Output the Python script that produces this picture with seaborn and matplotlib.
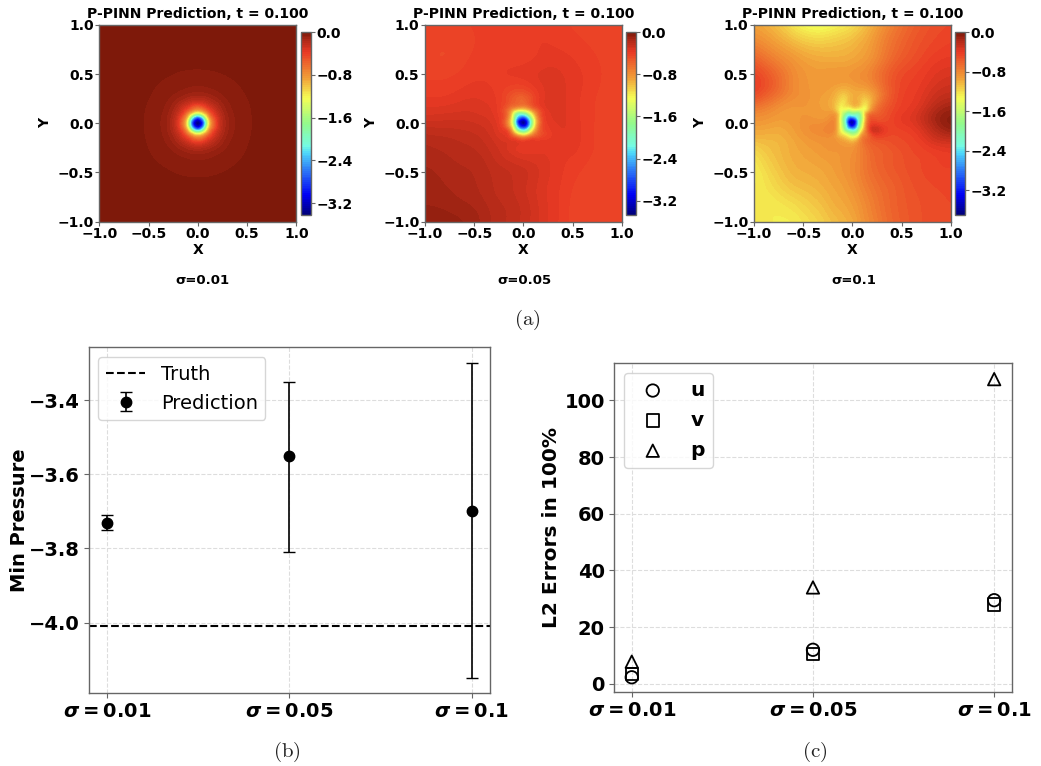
import numpy as np
import pandas as pd
import matplotlib
matplotlib.use('Agg')
import matplotlib.pyplot as plt
import matplotlib.tri as mtri
from matplotlib.colors import LinearSegmentedColormap
import seaborn as sns

# grid nodes of the pressure fields (finer close to the vortex core)
grid_x = [-1, -.8, -.6, -.4, -.25, -.15, -.1, -.06, -.03, 0, .03, .06, .1, .15, .25, .4, .6, .8, 1]
grid_y = [1, .8, .6, .4, .25, .15, .1, .06, .03, 0, -.03, -.06, -.1, -.15, -.25, -.4, -.6, -.8, -1]

# rows go from y=1 down to y=-1
field_001 = [
    [-.02]*19,
    [-.02]*19,
    [-.02, -.02, -.02, -.022, -.024, -.024, -.024, -.024, -.024, -.024, -.024, -.024, -.024, -.024, -.024, -.022, -.02, -.02, -.02],
    [-.02, -.02, -.022, -.035, -.045, -.052, -.058, -.06, -.06, -.06, -.06, -.06, -.058, -.052, -.045, -.035, -.022, -.02, -.02],
    [-.02, -.02, -.024, -.045, -.08, -.11, -.14, -.16, -.17, -.17, -.17, -.16, -.14, -.11, -.08, -.045, -.024, -.02, -.02],
    [-.02, -.02, -.024, -.052, -.11, -.3, -.45, -.6, -.68, -.7, -.68, -.6, -.45, -.3, -.11, -.052, -.024, -.02, -.02],
    [-.02, -.02, -.024, -.058, -.14, -.45, -.8, -1.15, -1.42, -1.5, -1.42, -1.15, -.8, -.45, -.14, -.058, -.024, -.02, -.02],
    [-.02, -.02, -.024, -.06, -.16, -.6, -1.15, -2.0, -2.5, -2.7, -2.5, -2.0, -1.15, -.6, -.16, -.06, -.024, -.02, -.02],
    [-.02, -.02, -.024, -.06, -.17, -.68, -1.42, -2.5, -3.05, -3.25, -3.05, -2.5, -1.42, -.68, -.17, -.06, -.024, -.02, -.02],
    [-.02, -.02, -.024, -.06, -.17, -.7, -1.5, -2.7, -3.25, -3.4, -3.25, -2.7, -1.5, -.7, -.17, -.06, -.024, -.02, -.02],
    [-.02, -.02, -.024, -.06, -.17, -.68, -1.42, -2.5, -3.05, -3.25, -3.05, -2.5, -1.42, -.68, -.17, -.06, -.024, -.02, -.02],
    [-.02, -.02, -.024, -.06, -.16, -.6, -1.15, -2.0, -2.5, -2.7, -2.5, -2.0, -1.15, -.6, -.16, -.06, -.024, -.02, -.02],
    [-.02, -.02, -.024, -.058, -.14, -.45, -.8, -1.15, -1.42, -1.5, -1.42, -1.15, -.8, -.45, -.14, -.058, -.024, -.02, -.02],
    [-.02, -.02, -.024, -.052, -.11, -.3, -.45, -.6, -.68, -.7, -.68, -.6, -.45, -.3, -.11, -.052, -.024, -.02, -.02],
    [-.02, -.02, -.024, -.045, -.08, -.11, -.14, -.16, -.17, -.17, -.17, -.16, -.14, -.11, -.08, -.045, -.024, -.02, -.02],
    [-.02, -.02, -.022, -.035, -.045, -.052, -.058, -.06, -.06, -.06, -.06, -.06, -.058, -.052, -.045, -.035, -.022, -.02, -.02],
    [-.02, -.02, -.02, -.022, -.024, -.024, -.024, -.024, -.024, -.024, -.024, -.024, -.024, -.024, -.024, -.022, -.02, -.02, -.02],
    [-.02]*19,
    [-.02]*19,
]

field_005 = [
    [-.42, -.43, -.42, -.4, -.39, -.39, -.39, -.39, -.39, -.39, -.39, -.39, -.39, -.39, -.39, -.41, -.44, -.44, -.44],
    [-.44, -.45, -.44, -.4, -.39, -.39, -.39, -.39, -.39, -.39, -.39, -.39, -.39, -.38, -.38, -.39, -.41, -.43, -.43],
    [-.44, -.45, -.42, -.39, -.39, -.39, -.39, -.39, -.39, -.39, -.39, -.38, -.38, -.37, -.35, -.36, -.39, -.42, -.44],
    [-.41, -.41, -.39, -.38, -.39, -.4, -.4, -.4, -.4, -.4, -.38, -.38, -.36, -.35, -.33, -.34, -.38, -.42, -.45],
    [-.38, -.38, -.35, -.35, -.38, -.46, -.52, -.56, -.58, -.58, -.54, -.5, -.44, -.37, -.31, -.34, -.39, -.43, -.45],
    [-.35, -.34, -.32, -.34, -.37, -.62, -.85, -.95, -1.0, -1.0, -.95, -.85, -.66, -.5, -.31, -.34, -.39, -.43, -.45],
    [-.32, -.32, -.31, -.33, -.36, -.75, -1.4, -1.9, -2.0, -1.95, -1.8, -1.5, -1.1, -.66, -.33, -.34, -.39, -.43, -.45],
    [-.3, -.29, -.29, -.32, -.35, -.82, -1.6, -2.4, -2.7, -2.8, -2.6, -2.1, -1.4, -.76, -.33, -.34, -.39, -.43, -.45],
    [-.28, -.28, -.27, -.3, -.35, -.88, -1.7, -2.8, -3.2, -3.3, -3.1, -2.5, -1.6, -.82, -.34, -.34, -.39, -.43, -.45],
    [-.26, -.26, -.26, -.29, -.35, -.88, -1.7, -2.8, -3.25, -3.4, -3.2, -2.6, -1.6, -.82, -.35, -.34, -.39, -.43, -.45],
    [-.25, -.25, -.26, -.28, -.34, -.82, -1.5, -2.5, -3.0, -3.1, -3.0, -2.4, -1.5, -.76, -.36, -.34, -.39, -.43, -.45],
    [-.22, -.23, -.25, -.27, -.33, -.66, -1.3, -2.0, -2.4, -2.5, -2.4, -1.9, -1.25, -.7, -.37, -.34, -.39, -.43, -.45],
    [-.2, -.22, -.23, -.26, -.32, -.48, -.9, -1.3, -1.5, -1.6, -1.5, -1.25, -.9, -.6, -.41, -.34, -.39, -.43, -.45],
    [-.19, -.2, -.22, -.25, -.31, -.36, -.47, -.58, -.64, -.68, -.64, -.58, -.5, -.45, -.39, -.34, -.39, -.43, -.45],
    [-.16, -.18, -.2, -.23, -.28, -.31, -.32, -.34, -.35, -.36, -.36, -.35, -.35, -.35, -.34, -.35, -.39, -.43, -.45],
    [-.14, -.16, -.18, -.2, -.25, -.27, -.28, -.28, -.29, -.29, -.29, -.3, -.3, -.32, -.34, -.38, -.41, -.44, -.45],
    [-.13, -.14, -.16, -.19, -.22, -.23, -.25, -.26, -.26, -.27, -.28, -.29, -.29, -.32, -.35, -.39, -.43, -.45, -.45],
    [-.11, -.12, -.14, -.17, -.21, -.22, -.23, -.24, -.25, -.26, -.27, -.28, -.29, -.32, -.35, -.4, -.44, -.45, -.44],
    [-.075, -.08, -.1, -.15, -.2, -.21, -.23, -.24, -.25, -.26, -.27, -.28, -.29, -.32, -.35, -.4, -.44, -.44, -.44],
]

field_01 = [
    [-.95, -1.05, -1.25, -1.38, -1.36, -1.3, -1.28, -1.26, -1.24, -1.22, -1.18, -1.16, -1.12, -1.06, -.95, -.78, -.62, -.52, -.48],
    [-.78, -.9, -1.02, -1.1, -1.1, -1.08, -1.07, -1.06, -1.05, -1.04, -1.02, -1.0, -.98, -.95, -.85, -.7, -.56, -.48, -.44],
    [-.55, -.72, -.86, -.94, -.95, -.95, -.95, -.95, -.94, -.93, -.92, -.91, -.9, -.87, -.78, -.62, -.5, -.42, -.38],
    [-.42, -.6, -.82, -.9, -.9, -.92, -.93, -.93, -.93, -.92, -.9, -.88, -.88, -.86, -.75, -.55, -.44, -.36, -.3],
    [-.55, -.72, -.85, -.9, -.95, -1.1, -1.2, -1.15, -1.05, -1.0, -.98, -1.0, -1.1, -1.12, -.85, -.55, -.42, -.3, -.22],
    [-.75, -.84, -.9, -.9, -.95, -1.2, -1.35, -1.35, -1.4, -1.3, -1.25, -1.3, -1.35, -1.25, -.7, -.5, -.4, -.24, -.12],
    [-.82, -.88, -.9, -.9, -.9, -1.1, -1.6, -2.0, -2.1, -2.0, -2.0, -2.0, -1.6, -.95, -.62, -.48, -.38, -.2, -.08],
    [-.86, -.9, -.9, -.9, -.88, -1.05, -1.8, -2.4, -2.8, -2.8, -2.6, -2.2, -1.7, -.85, -.55, -.46, -.36, -.18, -.06],
    [-.88, -.92, -.9, -.88, -.85, -1.05, -1.8, -2.6, -3.3, -3.45, -3.2, -2.4, -1.7, -.8, -.52, -.46, -.36, -.18, -.05],
    [-.9, -.94, -.92, -.85, -.82, -1.05, -1.75, -2.6, -3.4, -3.5, -3.3, -2.4, -1.6, -.75, -.45, -.46, -.38, -.2, -.05],
    [-.93, -.96, -.92, -.83, -.8, -1.05, -1.7, -2.4, -3.1, -3.3, -3.0, -2.3, -1.5, -.72, -.36, -.46, -.4, -.22, -.07],
    [-.96, -.98, -.93, -.83, -.78, -1.05, -1.6, -2.2, -2.5, -2.6, -2.5, -2.0, -1.35, -.7, -.26, -.46, -.42, -.25, -.1],
    [-.98, -1.0, -.94, -.85, -.8, -1.05, -1.35, -1.6, -1.8, -1.9, -1.85, -1.6, -1.05, -.7, -.34, -.48, -.44, -.28, -.16],
    [-1.04, -1.03, -.96, -.88, -.86, -.95, -1.05, -1.15, -1.25, -1.3, -1.25, -1.1, -.8, -.66, -.5, -.5, -.46, -.32, -.25],
    [-1.15, -1.06, -.98, -.92, -.88, -.88, -.88, -.88, -.88, -.88, -.85, -.8, -.75, -.68, -.6, -.55, -.48, -.42, -.38],
    [-1.25, -1.1, -1.0, -.96, -.93, -.9, -.88, -.87, -.86, -.84, -.82, -.8, -.76, -.7, -.62, -.56, -.5, -.46, -.44],
    [-1.27, -1.17, -1.06, -1.02, -.97, -.94, -.92, -.9, -.88, -.86, -.84, -.82, -.78, -.74, -.67, -.6, -.52, -.48, -.46],
    [-1.25, -1.24, -1.18, -1.1, -1.03, -.98, -.97, -.95, -.94, -.92, -.9, -.88, -.84, -.8, -.72, -.62, -.54, -.5, -.48],
    [-1.22, -1.26, -1.26, -1.18, -1.1, -1.05, -1.03, -1.01, -1.0, -.98, -.96, -.93, -.88, -.84, -.76, -.64, -.55, -.5, -.48],
]

field_min = [-3.42, -3.47, -3.7]
field_names = ['σ=0.01', 'σ=0.05', 'σ=0.1']
cbar_ticks = [0.0, -0.8, -1.6, -2.4, -3.2]
field_ticks = [-1.0, -0.5, 0.0, 0.5, 1.0]

# jet as it looks in the reference, a bit less saturated than the stock one
cmap_stops = [0, .11, .25, .34, .375, .5, .64, .75, .89, .95, 1]
cmap_colors = ['#000078', '#0000F5', '#2F7FF7', '#4ED8FA', '#74FBE4', '#93FA8C', '#F5FD55',
               '#F19E38', '#EA3A24', '#B32A18', '#7A1809']

sigma_labels = [r'$\mathbfit{\sigma}\mathbf{=0.01}$', r'$\mathbfit{\sigma}\mathbf{=0.05}$', r'$\mathbfit{\sigma}\mathbf{=0.1}$']
min_pressure = [-3.73, -3.55, -3.70]
min_pressure_low = [-3.75, -3.81, -4.15]
min_pressure_high = [-3.71, -3.35, -3.30]
truth_pressure = -4.01

err_u = [2.3, 12, 29.5]
err_v = [3.5, 10.5, 28]
err_p = [7.8, 34, 107.5]

W, H = 1041, 766
GREY = '#666666'

sns.set_theme(style='ticks', font='DejaVu Sans')
plt.rcParams['font.weight'] = 'bold'
plt.rcParams['axes.labelweight'] = 'bold'
plt.rcParams['axes.titleweight'] = 'bold'
plt.rcParams['mathtext.fontset'] = 'dejavusans'
plt.rcParams['axes.edgecolor'] = GREY
plt.rcParams['axes.linewidth'] = 1.0
plt.rcParams['text.color'] = 'black'
plt.rcParams['axes.labelcolor'] = 'black'
plt.rcParams['xtick.labelcolor'] = 'black'
plt.rcParams['ytick.labelcolor'] = 'black'


def px_axes(fig, left, top, right, bottom):
    return fig.add_axes([left / W, 1 - bottom / H, (right - left) / W, (bottom - top) / H])


def blur(z, sigma):
    # plain gaussian, sigma in grid cells
    r = int(3 * sigma) + 1
    kernel = np.exp(-0.5 * (np.arange(-r, r + 1) / sigma) ** 2)
    kernel = kernel / kernel.sum()
    out = np.pad(z, r, mode='edge')
    out = np.apply_along_axis(lambda m: np.convolve(m, kernel, mode='same'), 0, out)
    out = np.apply_along_axis(lambda m: np.convolve(m, kernel, mode='same'), 1, out)
    return out[r:-r, r:-r]


fig = plt.figure(figsize=(W / 100, H / 100), dpi=100)

p_cmap = LinearSegmentedColormap.from_list('p_jet', list(zip(cmap_stops, cmap_colors)), N=512)
field_boxes = [(99.3, 296.3, 301, 310.5), (425, 621.7, 626.3, 636), (754, 950.7, 955, 965)]
caption_x = [202, 524, 854]
outer_blur = [14, 14, 8]
xx, yy = np.meshgrid(grid_x, grid_y)
tri = mtri.Triangulation(xx.ravel(), yy.ravel())
refiner = mtri.UniformTriRefiner(tri)
plot_axis = np.linspace(-1, 1, 401)
plot_x, plot_y = np.meshgrid(plot_axis, plot_axis)
# only the slow outer part of a field gets the wide blur, the core stays sharp
outer = np.clip((np.hypot(plot_x, plot_y) - 0.2) / 0.15, 0, 1)

for i, field in enumerate([field_001, field_005, field_01]):
    left, right, cleft, cright = field_boxes[i]
    ax = px_axes(fig, left, 25, right, 221.5)
    cax = px_axes(fig, cleft, 32, cright, 215)
    zz = np.array(field, dtype=float)
    fine_tri, fine_z = refiner.refine_field(zz.ravel(), subdiv=3)
    plot_z = np.asarray(mtri.LinearTriInterpolator(fine_tri, fine_z)(plot_x, plot_y))
    plot_z = (1 - outer) * blur(plot_z, 1.5) + outer * blur(plot_z, outer_blur[i])
    plot_z = np.clip(plot_z, field_min[i] + 1e-3, -1e-3)
    levels = np.linspace(field_min[i], 0, 101)
    cf = ax.contourf(plot_x, plot_y, plot_z, levels=levels, cmap=p_cmap)
    ax.set_xticks(field_ticks)
    ax.set_yticks(field_ticks)
    ax.tick_params(labelsize=10, length=3, width=0.8, pad=1, color=GREY)
    ax.set_xlabel('X', fontsize=10, labelpad=1.5)
    ax.set_ylabel('Y', fontsize=10, labelpad=4)
    ax.set_title('P-PINN Prediction, t = 0.100', fontsize=10, pad=5)
    cb = fig.colorbar(cf, cax=cax, ticks=cbar_ticks)
    cb.ax.tick_params(labelsize=10, length=3, width=0.8, pad=1, color=GREY)
    cb.outline.set_edgecolor(GREY)
    fig.text(caption_x[i] / W, 1 - 281 / H, field_names[i], fontsize=9.5, ha='center', va='center')

# min pressure panel
ax_b = px_axes(fig, 88.7, 347.3, 490, 693)
pos = np.arange(len(sigma_labels))
lower = np.array(min_pressure) - np.array(min_pressure_low)
upper = np.array(min_pressure_high) - np.array(min_pressure)
ax_b.axhline(truth_pressure, color='black', ls='--', lw=1.5, label='Truth')
ax_b.errorbar(pos, min_pressure, yerr=[lower, upper], fmt='o', color='black', ms=7.5,
              capsize=4, elinewidth=1.2, capthick=1.0, label='Prediction')
ax_b.set_xlim(-0.1, 2.1)
ax_b.set_ylim(-4.19, -3.257)
ax_b.set_yticks([-3.4, -3.6, -3.8, -4.0])
ax_b.set_ylabel('Min Pressure', fontsize=14, labelpad=0.2)
ax_b.legend(loc='upper left', prop={'size': 14, 'weight': 'normal'})

# L2 error panel
ax_c = px_axes(fig, 614, 362.7, 1012.3, 692.3)
err_df = pd.DataFrame({'pos': np.tile(pos, 3), 'err': err_u + err_v + err_p,
                       'var': ['u'] * 3 + ['v'] * 3 + ['p'] * 3})
for name, marker in [('u', 'o'), ('v', 's'), ('p', '^')]:
    sns.scatterplot(data=err_df[err_df['var'] == name], x='pos', y='err', marker=marker, s=80,
                    facecolor='none', edgecolor='black', linewidth=1.3, label=name, ax=ax_c)
ax_c.set_xlim(-0.098, 2.1)
ax_c.set_ylim(-3.0, 113.3)
ax_c.set_yticks([0, 20, 40, 60, 80, 100])
ax_c.set_ylabel('L2 Errors in 100%', fontsize=14.5, labelpad=2.4)
ax_c.legend(loc='upper left', prop={'size': 14.5, 'weight': 'bold'}, labelspacing=0.55,
            handlelength=2.05, handletextpad=0.85)

for ax in [ax_b, ax_c]:
    ax.set_xticks(pos)
    ax.set_xticklabels(sigma_labels)
    ax.set_xlabel('')
    ax.tick_params(labelsize=14, length=3.5, width=0.8, pad=3, color=GREY)
    ax.grid(True, ls='--', lw=0.8, color='#dddddd')
    ax.set_axisbelow(True)

for lab, x, y in [('(a)', 527, 320), ('(b)', 287, 752), ('(c)', 815, 752)]:
    fig.text(x / W, 1 - y / H, '$\\mathrm{' + lab + '}$', fontsize=15, ha='center', va='center',
             math_fontfamily='cm', color='#222222')

fig.savefig('out.png', dpi=100)
